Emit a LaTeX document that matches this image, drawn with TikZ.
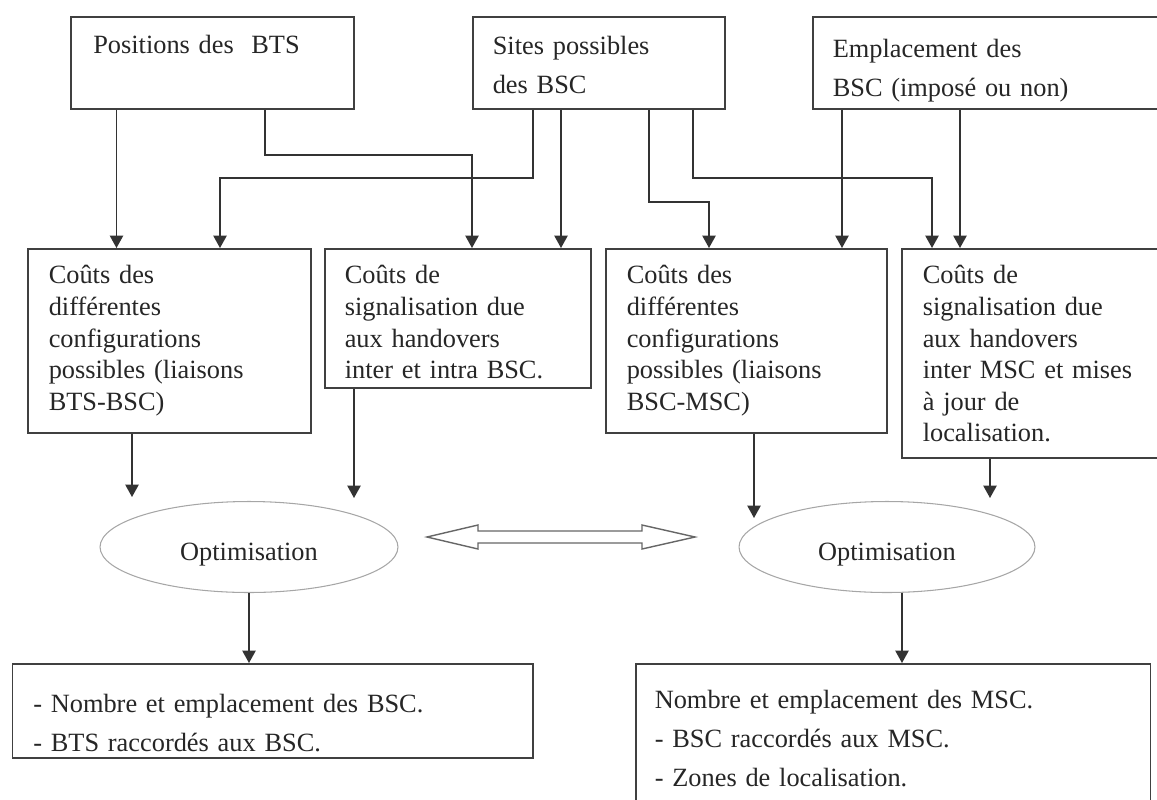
\documentclass[tikz,border=0pt]{standalone}
\usepackage{fontspec}
\setmainfont{Liberation Serif}
\usetikzlibrary{arrows.meta,shapes.geometric}

\begin{document}
\begin{tikzpicture}[x=0.02cm, y=-0.02cm,
	box/.style = {shape=rectangle, draw=black!75, line width=0.9pt, fill=white, anchor=north west, align=left, inner ysep=0pt, text=black!85, font=\fontsize{15}{18}\selectfont},
	head/.style = {box, font=\fontsize{15}{22}\selectfont},
	opt/.style = {shape=ellipse, draw=black!35, line width=0.6pt, minimum width=5.96cm, minimum height=1.82cm, inner sep=0pt, text height=0.52cm, text depth=0pt, text=black!85, font=\fontsize{15}{18}\selectfont},
	link/.style = {draw=black!80, line width=0.9pt, -{Triangle[length=7pt, width=7.5pt]}},
	swap/.style = {draw=black!60, line width=0.8pt, fill=white}]
		\useasboundingbox (0,0) rectangle (1157,799);
		\clip (0,0) rectangle (1157,799);
		\node[head, inner xsep=0.45cm, text width=4.76cm, text height=0.74cm, text depth=1.1cm] (topA) at (70,16) {Positions des\ \ BTS};
		\node[head, inner xsep=0.4cm, text width=4.24cm, text height=0.76cm, text depth=1.08cm] (topB) at (472,16) {Sites possibles\\des BSC};
		\node[head, inner xsep=0.4cm, text width=6.36cm, text height=0.82cm, text depth=1.02cm] (topC) at (812,16) {Emplacement des\\BSC (imposé ou non)};
		\node[box, inner xsep=0.42cm, text width=4.82cm, text height=0.7cm, text depth=2.98cm] (box1) at (27,248) {Coûts des\\différentes\\configurations\\possibles (liaisons\\BTS-BSC)};
		\node[box, inner xsep=0.4cm, text width=4.52cm, text height=0.7cm, text depth=2.08cm] (box2) at (324,248) {Coûts de\\signalisation due\\aux handovers\\inter et intra BSC.};
		\node[box, inner xsep=0.42cm, text width=4.78cm, text height=0.7cm, text depth=2.98cm] (box3) at (605,248) {Coûts des\\différentes\\configurations\\possibles (liaisons\\BSC-MSC)};
		\node[box, inner xsep=0.42cm, text width=4.54cm, text height=0.7cm, text depth=3.48cm] (box4) at (901,248) {Coûts de\\signalisation due\\aux handovers\\inter MSC et mises\\à jour de\\localisation.};
		\node[opt] (ellL) at (249,547) {Optimisation};
		\node[opt, minimum width=5.92cm] (ellR) at (887,547) {Optimisation};
		\node[head, inner xsep=0.42cm, text width=9.58cm, text height=0.98cm, text depth=0.9cm] (resL) at (11.5,663) {- Nombre et emplacement des BSC.\\- BTS raccordés aux BSC.};
		\node[head, inner xsep=0.38cm, text width=9.54cm, text height=0.9cm, text depth=2.44cm] (resR) at (635,663) {Nombre et emplacement des MSC.\\- BSC raccordés aux MSC.\\- Zones de localisation.};

		\coordinate (a1) at (116.5,0);
		\coordinate (a2) at (265,155);
		\coordinate (a3) at (472,155);
		\coordinate (b1) at (533,178);
		\coordinate (b2) at (220,178);
		\coordinate (b3) at (561,0);
		\coordinate (b4) at (649,202);
		\coordinate (b5) at (709,202);
		\coordinate (b6) at (693,178);
		\coordinate (b7) at (932,178);
		\coordinate (c1) at (842,0);
		\coordinate (c2) at (960,0);
		\coordinate (e1) at (132,497);
		\coordinate (e2) at (354,498);
		\coordinate (e3) at (754,518);
		\coordinate (e4) at (990,498);
		\coordinate (r2) at (902,0);
		\coordinate (swL) at (427,537);
		\coordinate (swR) at (695,537);

		\draw[link] (topA.south -| a1) -- (box1.north -| a1);
		\draw[link] (topA.south -| a2) -- (a2) -- (a3) -- (box2.north -| a3);
		\draw[link] (topB.south -| b1) -- (b1) -- (b2) -- (box1.north -| b2);
		\draw[link] (topB.south -| b3) -- (box2.north -| b3);
		\draw[link] (topB.south -| b4) -- (b4) -- (b5) -- (box3.north -| b5);
		\draw[link] (topB.south -| b6) -- (b6) -- (b7) -- (box4.north -| b7);
		\draw[link] (topC.south -| c1) -- (box3.north -| c1);
		\draw[link] (topC.south -| c2) -- (box4.north -| c2);
		\draw[link] (box1.south -| e1) -- (e1);
		\draw[link] (box2.south -| e2) -- (e2);
		\draw[link] (box3.south -| e3) -- (e3);
		\draw[link] (box4.south -| e4) -- (e4);
		\draw[link] (ellL.south) -- (resL.north -| ellL.south);
		\draw[link] (ellR.south -| r2) -- (resR.north -| r2);
		\draw[swap] (swL) -- ++(51,-12) -- ++(0,6) -- ++(164,0) -- ++(0,-6) -- (swR) -- ++(-53,12) -- ++(0,-6) -- ++(-164,0) -- ++(0,6) -- cycle;
\end{tikzpicture}
\end{document}
